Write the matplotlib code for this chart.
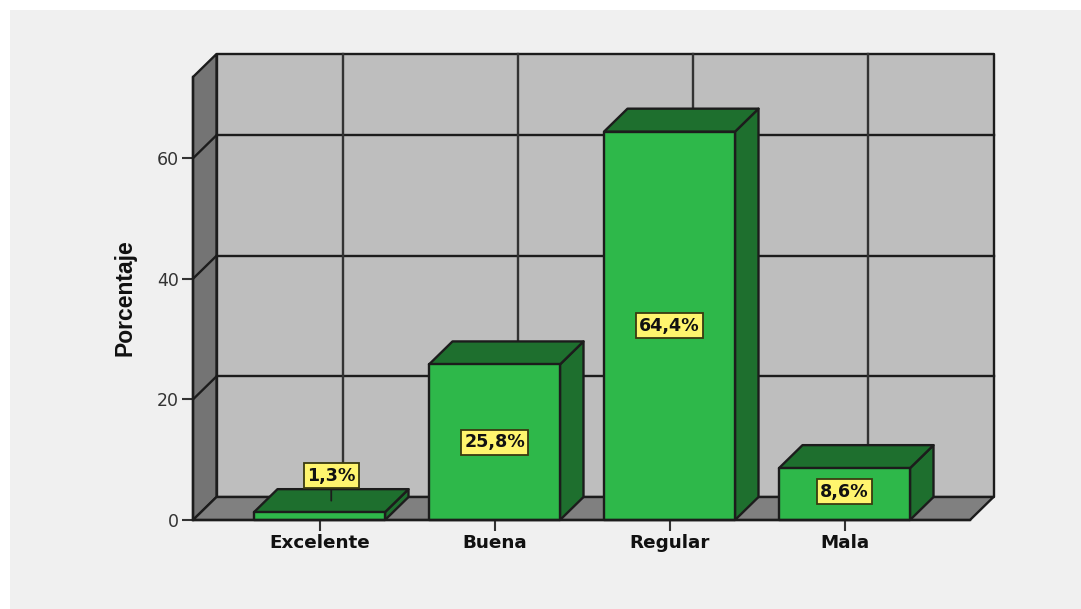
import matplotlib
matplotlib.use("Agg")
import matplotlib.pyplot as plt
from matplotlib.patches import Polygon, Rectangle

categories = ["Excelente", "Buena", "Regular", "Mala"]
values = [1.3, 25.8, 64.4, 8.6]
bar_labels = ["1,3%", "25,8%", "64,4%", "8,6%"]
y_ticks = [0, 20, 40, 60]

W, H = 1081, 609
INK = "#1c1c1c"
PANEL = "#F0F0F0"
WALL = "#BEBEBE"
SIDE = "#747474"
FLOOR = "#808080"
GREEN = "#2EB84A"
DARK = "#1E6F2E"
YELLOW = "#FFF56E"
LW = 1.7

fig = plt.figure(figsize=(W / 100, H / 100), dpi=100, facecolor="white")
fig.add_artist(Rectangle((10 / W, 0), 1 - 10 / W, 1 - 10 / H, transform=fig.transFigure,
                         facecolor=PANEL, edgecolor="none", zorder=-5))

ax = fig.add_axes([193 / W, (H - 520) / H, (970 - 193) / W, (520 - 77) / H])
ax.patch.set_visible(False)
xmin, xmax = (193 - 319.5) / 175, (970 - 319.5) / 175
ymax = (520 - 77) / 6.03
ax.set_xlim(xmin, xmax)
ax.set_ylim(0, ymax)

# oblique depth of the 3-D box, in data units
dx = 23.5 / 175
dy = 23 / 6.03
bar_w = 131 / 175


def poly(pts, fc, z):
    ax.add_patch(Polygon(pts, closed=True, facecolor=fc, edgecolor=INK, linewidth=LW,
                         joinstyle="round", zorder=z, clip_on=False))


# walls and floor
poly([(xmin + dx, dy), (xmax + dx, dy), (xmax + dx, ymax + dy), (xmin + dx, ymax + dy)], WALL, 1)
poly([(xmin, 0), (xmin + dx, dy), (xmin + dx, ymax + dy), (xmin, ymax)], SIDE, 1)
poly([(xmin, 0), (xmax, 0), (xmax + dx, dy), (xmin + dx, dy)], FLOOR, 1)

# grid on the back wall and left wall
for t in y_ticks[1:]:
    ax.plot([xmin + dx, xmax + dx], [t + dy, t + dy], color=INK, lw=LW, zorder=2, clip_on=False)
    ax.plot([xmin, xmin + dx], [t, t + dy], color=INK, lw=LW, zorder=2, clip_on=False)
for i in range(len(categories)):
    ax.plot([i + dx, i + dx], [dy, ymax + dy], color="#333333", lw=LW, zorder=2, clip_on=False)

# bars
for i, v in enumerate(values):
    l, r = i - bar_w / 2, i + bar_w / 2
    z = 3 + i * 0.1
    poly([(r, 0), (r + dx, dy), (r + dx, v + dy), (r, v)], DARK, z)
    poly([(l, v), (r, v), (r + dx, v + dy), (l + dx, v + dy)], DARK, z)
    poly([(l, 0), (r, 0), (r, v), (l, v)], GREEN, z)

box = dict(boxstyle="square,pad=0.2", facecolor=YELLOW, edgecolor="#3a3a10", linewidth=1.3)
font = dict(family="DejaVu Sans", fontweight="bold", fontsize=12.6, color="#111111",
            ha="center", va="center")
for i, (v, s) in enumerate(zip(values, bar_labels)):
    if v < 5:
        ax.annotate(s, xy=(i + dx / 2, v + dy / 2), xytext=(i + dx / 2, v + dy / 2 + 4.1),
                    bbox=box, zorder=6, annotation_clip=False,
                    arrowprops=dict(arrowstyle="-", color=INK, lw=1.3, shrinkA=0, shrinkB=0), **font)
    else:
        ax.text(i, v / 2 + (0.4 if v < 10 else 0), s, bbox=box, zorder=6, **font)

# axes furniture
for side in ("top", "right"):
    ax.spines[side].set_visible(False)
for side in ("left", "bottom"):
    ax.spines[side].set_color(INK)
    ax.spines[side].set_linewidth(LW)
    ax.spines[side].set_zorder(5)
ax.set_xticks(range(len(categories)), categories, family="DejaVu Sans", fontweight="bold",
              fontsize=13.2, color="#111111")
ax.set_yticks(y_ticks, [str(t) for t in y_ticks], family="DejaVu Sans", fontsize=12.5, color="#333333")
ax.tick_params(axis="both", length=8, width=1.5, color="#333333", pad=2)
ax.tick_params(axis="x", pad=2)
ax.set_ylabel("Porcentaje", family="Liberation Sans", fontweight="bold", fontsize=16.5,
              color="#111111")
ax.yaxis.set_label_coords((136 - 193) / (970 - 193), (520 - 298) / (520 - 77))

fig.savefig("out.png", dpi=100, facecolor=fig.get_facecolor())
